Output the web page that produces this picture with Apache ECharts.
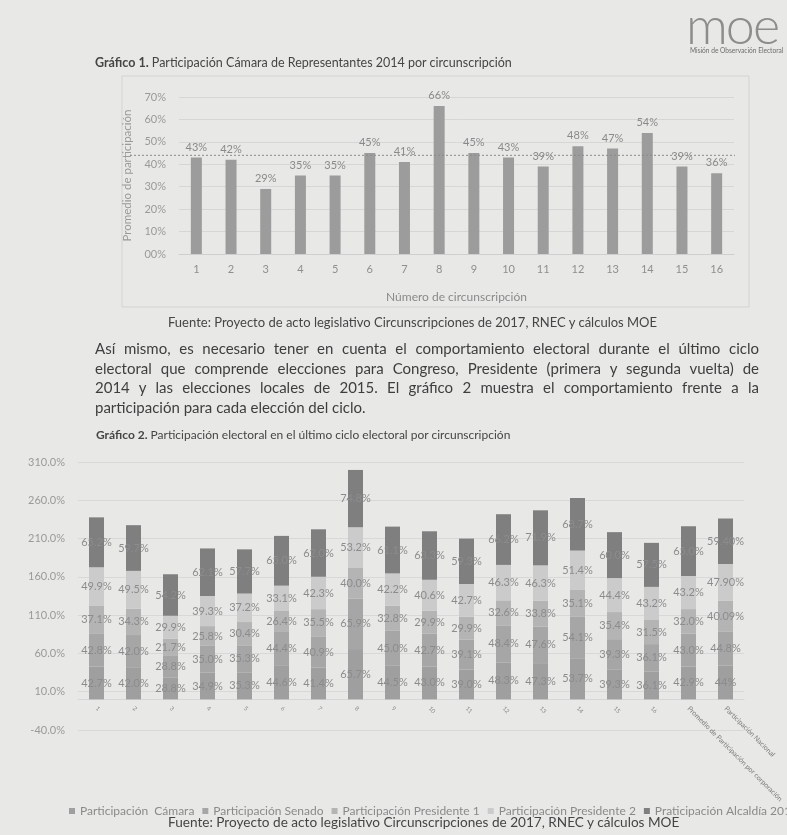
<!DOCTYPE html>
<html>
<head>
<meta charset="utf-8">
<script src="https://cdn.jsdelivr.net/npm/echarts@6/dist/echarts.min.js"></script>
<style>
  html, body { margin: 0; padding: 0; background: #e8e8e6; }
  #page { position: relative; width: 787px; height: 835px; overflow: hidden; background: #e8e8e6;
          font-family: Lato, "Open Sans", sans-serif; color: #454545; }
  #chart { position: absolute; left: 0; top: 0; width: 787px; height: 835px; }
  .t { position: absolute; white-space: nowrap; z-index: 2; }
  .par { position: absolute; left: 95px; width: 664px; font-size: 15px; z-index: 2; color: #3e3e3e; }
  .par div { height: 19.5px; line-height: 19.5px; text-align: justify; text-align-last: justify; white-space: nowrap; }
  .par div.last { text-align-last: left; }
  .logo { position: absolute; left: 686px; top: -7px; font-size: 52px; font-weight: 300; color: #8d8d8d; letter-spacing: -2px; z-index: 2; }
  .logosub { position: absolute; left: 690px; top: 46px; font-size: 6.6px; color: #6d6d6d; z-index: 2; white-space: nowrap; }
</style>
</head>
<body>
<div id="page">
  <div id="chart"></div>
  <div class="logo">moe</div>
  <div class="logosub">Misión de Observación Electoral</div>
  <div class="t" style="left:95px; top:55px; font-size:12.5px;"><b>Gráfico 1.</b> Participación Cámara de Representantes 2014 por circunscripción</div>
  <div class="t" style="left:168px; top:314px; font-size:13px;">Fuente: Proyecto de acto legislativo Circunscripciones de 2017, RNEC y cálculos MOE</div>
  <div class="par" style="top:339px;">
    <div>Así mismo, es necesario tener en cuenta el comportamiento electoral durante el último ciclo</div>
    <div>electoral que comprende elecciones para Congreso, Presidente (primera y segunda vuelta) de</div>
    <div>2014 y las elecciones locales de 2015. El gráfico 2 muestra el comportamiento frente a la</div>
    <div class="last">participación para cada elección del ciclo.</div>
  </div>
  <div class="t" style="left:96px; top:427px; font-size:12px;"><b>Gráfico 2.</b> Participación electoral en el último ciclo electoral por circunscripción</div>
  <div class="t" style="left:168px; top:814px; font-size:13.6px;">Fuente: Proyecto de acto legislativo Circunscripciones de 2017, RNEC y cálculos MOE</div>
</div>
<script>
// Gráfico 1: participación Cámara 2014 por circunscripción
const circunscripciones = ['1','2','3','4','5','6','7','8','9','10','11','12','13','14','15','16'];
const participacionCamara2014 = [43, 42, 29, 35, 35, 45, 41, 66, 45, 43, 39, 48, 47, 54, 39, 36];
const referenciaNacional = 44;
const ejeGrafico1 = { min: 0, max: 70, paso: 10 };

// Gráfico 2: participación en el último ciclo electoral
const categoriasCiclo = circunscripciones.concat([
  'Promedio de Participación por corporación',
  'Participación Nacional'
]);
const partCamara     = [42.7, 42.0, 28.8, 34.9, 35.3, 44.6, 41.4, 65.7, 44.5, 43.0, 39.0, 48.3, 47.3, 53.7, 39.3, 36.1, 42.9, 44];
const partSenado     = [42.8, 42.0, 28.8, 35.0, 35.3, 44.4, 40.9, 65.9, 45.0, 42.7, 39.1, 48.4, 47.6, 54.1, 39.3, 36.1, 43.0, 44.8];
const partPresidente1 = [37.1, 34.3, 21.7, 25.8, 30.4, 26.4, 35.5, 40.0, 32.8, 29.9, 29.9, 32.6, 33.8, 35.1, 35.4, 31.5, 32.0, 40.09];
const partPresidente2 = [49.9, 49.5, 29.9, 39.3, 37.2, 33.1, 42.3, 53.2, 42.2, 40.6, 42.7, 46.3, 46.3, 51.4, 44.4, 43.2, 43.2, 47.90];
const partAlcaldia   = [65.2, 59.7, 54.2, 62.1, 57.7, 65.0, 62.0, 74.8, 61.1, 63.3, 59.3, 66.2, 71.9, 68.7, 60.0, 57.5, 65.0, 59.40];
// decimales con los que se rotula la columna nacional
const decimalesNacional = [0, 1, 2, 2, 2];
const ejeGrafico2 = { min: -40, max: 310, paso: 50 };

const nombresSeries = ['Participación  Cámara', 'Participación Senado', 'Participación Presidente 1',
                       'Participación Presidente 2', 'Praticipación Alcaldía 2015'];
const seriesCiclo = [partCamara, partSenado, partPresidente1, partPresidente2, partAlcaldia];
const coloresCiclo = ['#9f9f9f', '#a6a6a6', '#b4b4b4', '#cbcbcb', '#7f7f7f'];

const fuente = 'Lato, "Open Sans", sans-serif';
const chart = echarts.init(document.getElementById('chart'), null, { renderer: 'canvas' });

const option = {
  backgroundColor: '#e8e8e6',
  animation: false,
  textStyle: { fontFamily: fuente },
  grid: [
    { left: 179, width: 555, top: 97, height: 157 },
    { left: 78, width: 666, top: 462, height: 268 }
  ],
  legend: {
    left: 64, top: 800, width: 800, itemWidth: 6, itemHeight: 6, itemGap: 8, icon: 'rect',
    textStyle: { fontSize: 12, color: '#8a8a8a', fontFamily: fuente },
    data: nombresSeries
  },
  xAxis: [
    {
      gridIndex: 0, type: 'category', data: circunscripciones,
      name: 'Número de circunscripción', nameLocation: 'middle', nameGap: 37,
      nameTextStyle: { fontSize: 12, color: '#8a8a8a' },
      axisLine: { lineStyle: { color: '#cfcfcf' } }, axisTick: { show: false },
      axisLabel: { color: '#8f8f8f', fontSize: 11, margin: 10 }
    },
    {
      gridIndex: 1, type: 'category', data: categoriasCiclo,
      axisLine: { onZero: false, lineStyle: { color: '#d6d6d6' } },
      axisTick: { show: false },
      axisLabel: {
        interval: 0, rotate: -45, margin: 8, color: '#8a8a8a',
        fontSize: 6,
        rich: { largo: { fontSize: 7, color: '#7a7a7a' } },
        formatter: v => v.length > 3 ? '{largo|' + v + '}' : v
      }
    }
  ],
  yAxis: [
    {
      gridIndex: 0, type: 'value', min: ejeGrafico1.min, max: ejeGrafico1.max, interval: ejeGrafico1.paso,
      name: 'Promedio de participación', nameLocation: 'middle', nameGap: 40,
      nameTextStyle: { fontSize: 11.5, color: '#9a9a9a' },
      axisLabel: { color: '#9a9a9a', fontSize: 11, margin: 13,
                   formatter: v => (v === 0 ? '00' : v) + '%' },
      splitLine: { lineStyle: { color: '#d6d6d6' } }
    },
    {
      gridIndex: 1, type: 'value', min: ejeGrafico2.min, max: ejeGrafico2.max, interval: ejeGrafico2.paso,
      axisLabel: { color: '#9a9a9a', fontSize: 11, margin: 13, formatter: v => v.toFixed(1) + '%' },
      splitLine: { lineStyle: { color: '#d8d8d8' } }
    }
  ],
  series: [
    {
      type: 'bar', xAxisIndex: 0, yAxisIndex: 0, data: participacionCamara2014,
      barWidth: 11, itemStyle: { color: '#9c9c9c' },
      label: { show: true, position: 'top', distance: 5, color: '#8a8a8a', fontSize: 11,
               formatter: p => p.value + '%' }
    }
  ].concat(seriesCiclo.map((valores, i) => ({
    type: 'bar', name: nombresSeries[i], xAxisIndex: 1, yAxisIndex: 1, stack: 'ciclo',
    data: valores, barWidth: 15, itemStyle: { color: coloresCiclo[i] },
    label: {
      show: true, position: 'inside', color: '#8c8c8c', fontSize: 11,
      formatter: p => {
        const dec = p.dataIndex === categoriasCiclo.length - 1 ? decimalesNacional[i] : 1;
        return p.value.toFixed(dec) + '%';
      }
    }
  })))
};

chart.setOption(option);

// el eje de categorías del gráfico 2 se sitúa sobre el valor cero
const yCero = chart.convertToPixel({ yAxisIndex: 1 }, 0);
const yBase = chart.convertToPixel({ yAxisIndex: 1 }, ejeGrafico2.min);
// línea de referencia punteada y marco del gráfico 1
const yRef = chart.convertToPixel({ yAxisIndex: 0 }, referenciaNacional);
chart.setOption({
  xAxis: [{}, { offset: yCero - yBase }],
  graphic: [
    { type: 'rect', shape: { x: 122, y: 76, width: 627, height: 231 }, silent: true,
      style: { fill: 'none', stroke: '#d3d3d3', lineWidth: 1 } },
    { type: 'line', shape: { x1: 130, y1: yRef, x2: 735, y2: yRef }, silent: true, z: 10,
      style: { stroke: '#8a8a8a', lineWidth: 1, lineDash: [2, 2] } }
  ]
});
</script>
</body>
</html>
